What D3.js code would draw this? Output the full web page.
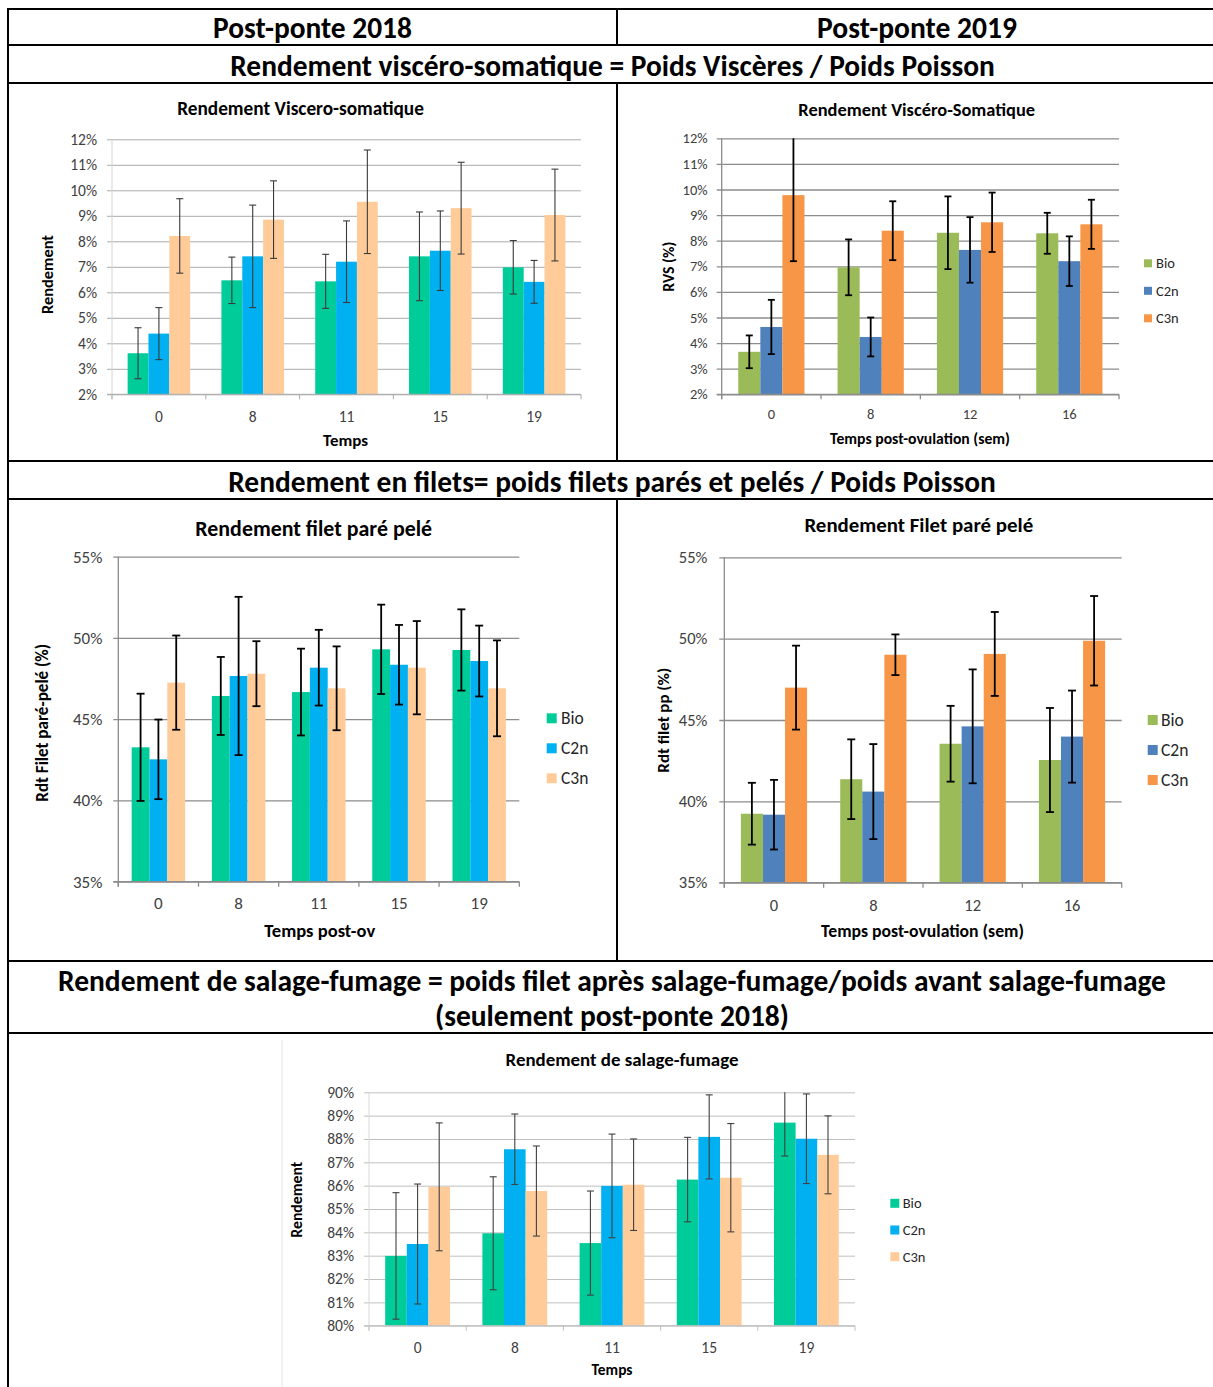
<!DOCTYPE html>
<html><head><meta charset="utf-8">
<script src="https://cdn.jsdelivr.net/npm/d3@7"></script>
<style>body{margin:0;background:#fff}svg{display:block}</style>
</head><body><svg id="c" width="1213" height="1387"></svg>
<script>
// ---------------- DATA ----------------
const series = ["Bio", "C2n", "C3n"];

// Rendement viscéro-somatique, post-ponte 2018 (%)
const rvs18Times = ["0", "8", "11", "15", "19"];
const rvs18Bio = [3.61, 6.47, 6.43, 7.41, 6.98];
const rvs18BioErr = [1.0, 0.91, 1.06, 1.74, 1.05];
const rvs18C2n = [4.38, 7.41, 7.2, 7.63, 6.41];
const rvs18C2nErr = [1.02, 2.01, 1.6, 1.56, 0.84];
const rvs18C3n = [8.21, 8.85, 9.55, 9.3, 9.03];
const rvs18C3nErr = [1.46, 1.52, 2.03, 1.8, 1.8];

// Rendement viscéro-somatique, post-ponte 2019 (%)
const rvs19Times = ["0", "8", "12", "16"];
const rvs19Bio = [3.66, 6.96, 8.31, 8.29];
const rvs19BioErr = [0.64, 1.09, 1.42, 0.8];
const rvs19C2n = [4.63, 4.24, 7.64, 7.2];
const rvs19C2nErr = [1.06, 0.76, 1.28, 0.97];
const rvs19C3n = [9.78, 8.39, 8.72, 8.64];
const rvs19C3nErr = [2.58, 1.15, 1.16, 0.96];

// Rendement filet paré pelé, post-ponte 2018 (%)
const fil18Times = ["0", "8", "11", "15", "19"];
const fil18Bio = [43.27, 46.43, 46.67, 49.3, 49.26];
const fil18BioErr = [3.3, 2.4, 2.67, 2.75, 2.5];
const fil18C2n = [42.53, 47.66, 48.17, 48.35, 48.58];
const fil18C2nErr = [2.45, 4.87, 2.33, 2.45, 2.18];
const fil18C3n = [47.25, 47.8, 46.9, 48.17, 46.9];
const fil18C3nErr = [2.9, 2.0, 2.58, 2.87, 2.95];

// Rendement filet paré pelé, post-ponte 2019 (%)
const fil19Times = ["0", "8", "12", "16"];
const fil19Bio = [39.24, 41.36, 43.54, 42.54];
const fil19BioErr = [1.9, 2.45, 2.33, 3.2];
const fil19C2n = [39.18, 40.6, 44.61, 43.98];
const fil19C2nErr = [2.14, 2.92, 3.5, 2.83];
const fil19C3n = [46.99, 49.01, 49.06, 49.87];
const fil19C3nErr = [2.58, 1.25, 2.58, 2.75];

// Rendement de salage-fumage, post-ponte 2018 (%)
const fum18Times = ["0", "8", "11", "15", "19"];
const fum18Bio = [82.99, 83.96, 83.54, 86.26, 88.7];
const fum18BioErr = [2.71, 2.42, 2.23, 1.81, 1.43];
const fum18C2n = [83.5, 87.56, 85.99, 88.09, 88.01];
const fum18C2nErr = [2.57, 1.51, 2.22, 1.8, 1.92];
const fum18C3n = [85.95, 85.77, 86.04, 86.34, 87.32];
const fum18C3nErr = [2.74, 1.93, 1.96, 2.32, 1.67];

// Tick values
const rvsTicks = [2, 3, 4, 5, 6, 7, 8, 9, 10, 11, 12];
const filetTicks = [35, 40, 45, 50, 55];
const fumageTicks = [80, 81, 82, 83, 84, 85, 86, 87, 88, 89, 90];

// ---------------- STYLE / LAYOUT ----------------
const FONT = "Carlito, Lato, 'Noto Sans', sans-serif";
const palette2018 = ["#00CC99", "#00B0F0", "#FFCC99"];
const palette2019 = ["#9BBB59", "#4F81BD", "#F79646"];
const svg = d3.select("#c");

function label(str, cx, cy, o = {}) {
  const fs = o.fs || 14;
  const t = svg.append("text")
    .attr("transform", `translate(${cx},${cy})` + (o.rotate ? " rotate(-90)" : ""))
    .attr("text-anchor", o.anchor || "middle")
    .attr("dy", "0.35em")
    .attr("font-family", FONT)
    .attr("font-weight", o.bold ? 700 : 400)
    .attr("font-size", fs)
    .attr("fill", o.fill || "#000")
    .text(str);
  if (o.width) {
    const L = t.node().getComputedTextLength();
    if (L > 0) t.attr("font-size", fs * o.width / L);
  }
  return t;
}

// ---------------- TABLE ----------------
const hRules = [9, 45, 83, 461, 499, 961, 1033];
hRules.forEach(y => svg.append("line").attr("x1", 7).attr("x2", 1213).attr("y1", y).attr("y2", y)
  .attr("stroke", "#000").attr("stroke-width", 2));
svg.append("line").attr("x1", 8).attr("x2", 8).attr("y1", 8).attr("y2", 1387).attr("stroke", "#000").attr("stroke-width", 2);
[[9, 45], [83, 461], [499, 961]].forEach(([a, b]) =>
  svg.append("line").attr("x1", 617).attr("x2", 617).attr("y1", a).attr("y2", b).attr("stroke", "#000").attr("stroke-width", 2));

label("Post-ponte 2018", 312.5, 28, {bold: true, fs: 24, width: 199});
label("Post-ponte 2019", 917, 28, {bold: true, fs: 24, width: 200});
label("Rendement viscéro-somatique = Poids Viscères / Poids Poisson", 612.5, 65.5, {bold: true, fs: 24, width: 765});
label("Rendement en filets= poids filets parés et pelés / Poids Poisson", 612, 482, {bold: true, fs: 24, width: 768});
label("Rendement de salage-fumage = poids filet après salage-fumage/poids avant salage-fumage", 612, 981, {bold: true, fs: 24, width: 1108});
label("(seulement post-ponte 2018)", 612, 1016, {bold: true, fs: 24, width: 354});

// ---------------- CHART ----------------
function chart(o) {
  const g = svg.append("g");
  const W = o.right - o.left;
  const x0 = d3.scaleBand().domain(o.cats).range([o.left, o.right]).paddingInner(1 / 3).paddingOuter(1 / 6);
  const x1 = d3.scaleBand().domain(series).range([0, x0.bandwidth()]);
  const yMin = o.ticks[0], yMax = o.ticks[o.ticks.length - 1];
  const y = d3.scaleLinear().domain([yMin, yMax]).range([o.bottom, o.top]);
  const color = d3.scaleOrdinal().domain(series).range(o.colors);

  if (o.frameX) g.append("line").attr("x1", o.frameX).attr("x2", o.frameX).attr("y1", o.frameY0).attr("y2", o.frameY1)
    .attr("stroke", "#E6E6E6").attr("stroke-width", 1);

  // grid + y labels
  const gy = g.append("g").attr("transform", `translate(${o.left},0)`)
    .call(d3.axisLeft(y).tickValues(o.ticks).tickSize(-W).tickPadding(o.yPad).tickFormat(d => d + "%"));
  gy.select(".domain").remove();
  gy.selectAll(".tick line").attr("x1", -5).attr("stroke", o.gridColor).attr("stroke-width", o.gridW);
  gy.selectAll(".tick text").attr("fill", "#404040").attr("font-size", o.fs).attr("font-family", FONT);

  // bars
  const rows = [];
  o.cats.forEach((c, i) => series.forEach((s, j) => rows.push({c, s, v: o.vals[j][i], e: o.errs[j][i]})));
  g.append("g").selectAll("rect").data(rows).join("rect")
    .attr("x", d => x0(d.c) + x1(d.s))
    .attr("width", x1.bandwidth())
    .attr("y", d => y(d.v))
    .attr("height", d => y(yMin) - y(d.v))
    .attr("fill", d => color(d.s));

  // error bars
  const eg = g.append("g").attr("stroke", o.errColor).attr("stroke-width", o.errW).attr("fill", "none");
  rows.forEach(d => {
    const cx = x0(d.c) + x1(d.s) + x1.bandwidth() / 2;
    const hi = Math.min(d.v + d.e, yMax), lo = Math.max(d.v - d.e, yMin);
    eg.append("line").attr("x1", cx).attr("x2", cx).attr("y1", y(lo)).attr("y2", y(hi));
    eg.append("line").attr("x1", cx - o.cap / 2).attr("x2", cx + o.cap / 2).attr("y1", y(lo)).attr("y2", y(lo));
    if (d.v + d.e <= yMax) eg.append("line").attr("x1", cx - o.cap / 2).attr("x2", cx + o.cap / 2).attr("y1", y(hi)).attr("y2", y(hi));
  });

  // axes lines
  g.append("line").attr("x1", o.left).attr("x2", o.left).attr("y1", o.top).attr("y2", o.bottom + 5)
    .attr("stroke", o.leftColor).attr("stroke-width", o.axisW);
  g.append("line").attr("x1", o.left - 5).attr("x2", o.right).attr("y1", o.bottom).attr("y2", o.bottom)
    .attr("stroke", o.bottomColor).attr("stroke-width", o.axisW);
  d3.range(o.cats.length + 1).forEach(i => {
    const bx = o.left + i * x0.step();
    g.append("line").attr("x1", bx).attr("x2", bx).attr("y1", o.bottom).attr("y2", o.bottom + 5)
      .attr("stroke", o.bottomColor).attr("stroke-width", o.axisW);
  });

  const gx = g.append("g").attr("transform", `translate(0,${o.bottom})`)
    .call(d3.axisBottom(x0).tickSize(0).tickPadding(o.xPad));
  gx.select(".domain").remove();
  gx.selectAll(".tick text").attr("fill", "#404040").attr("font-size", o.fs).attr("font-family", FONT);

  // titles
  label(o.title[0], o.title[1], o.title[2], {bold: true, fs: 16, width: o.title[3]});
  label(o.xTitle[0], o.xTitle[1], o.xTitle[2], {bold: true, fs: 14, width: o.xTitle[3]});
  label(o.yTitle[0], o.yTitle[1], o.yTitle[2], {bold: true, fs: 14, width: o.yTitle[3], rotate: true});

  // legend
  if (o.legend) {
    const L = o.legend;
    series.forEach((s, j) => {
      const cy = L.y0 + j * L.dy;
      g.append("rect").attr("x", L.x).attr("y", cy - L.sq / 2).attr("width", L.sq).attr("height", L.sq).attr("fill", color(s));
      label(s, L.tx, cy, {anchor: "start", fs: L.fs, fill: "#262626"});
    });
  }
}

chart({
  cats: rvs18Times, vals: [rvs18Bio, rvs18C2n, rvs18C3n], errs: [rvs18BioErr, rvs18C2nErr, rvs18C3nErr],
  ticks: rvsTicks, colors: palette2018,
  left: 112, right: 581, top: 139.3, bottom: 394.3,
  fs: 15.5, yPad: 15, xPad: 17,
  gridColor: "#ABABAB", gridW: 1, leftColor: "#D4D4D4", bottomColor: "#ABABAB", axisW: 1,
  errColor: "#3A3A3A", errW: 1.1, cap: 7,
  title: ["Rendement Viscero-somatique", 300.5, 108.3, 247],
  xTitle: ["Temps", 345.5, 440, 45],
  yTitle: ["Rendement", 47.5, 274.5, 79]
});

chart({
  cats: rvs19Times, vals: [rvs19Bio, rvs19C2n, rvs19C3n], errs: [rvs19BioErr, rvs19C2nErr, rvs19C3nErr],
  ticks: rvsTicks, colors: palette2019,
  left: 721.7, right: 1119, top: 138.3, bottom: 394.3,
  fs: 14.5, yPad: 14, xPad: 14.5,
  gridColor: "#8C8C8C", gridW: 1.3, leftColor: "#8C8C8C", bottomColor: "#8C8C8C", axisW: 1.3,
  errColor: "#000", errW: 1.8, cap: 7,
  title: ["Rendement Viscéro-Somatique", 916.7, 110, 237],
  xTitle: ["Temps post-ovulation (sem)", 920, 438, 180],
  yTitle: ["RVS (%)", 668.5, 266.7, 50],
  legend: {x: 1144, tx: 1156, y0: 263.3, dy: 27.5, sq: 8, fs: 14.5}
});

chart({
  cats: fil18Times, vals: [fil18Bio, fil18C2n, fil18C3n], errs: [fil18BioErr, fil18C2nErr, fil18C3nErr],
  ticks: filetTicks, colors: palette2018,
  left: 118.3, right: 519.3, top: 556.7, bottom: 881.7,
  fs: 17, yPad: 16, xPad: 15,
  gridColor: "#8C8C8C", gridW: 1.3, leftColor: "#8C8C8C", bottomColor: "#8C8C8C", axisW: 1.3,
  errColor: "#000", errW: 1.8, cap: 8,
  title: ["Rendement filet paré pelé", 313.7, 528.3, 237],
  xTitle: ["Temps post-ov", 319.7, 930, 111],
  yTitle: ["Rdt Filet paré-pelé (%)", 41.7, 722.8, 158],
  legend: {x: 546.7, tx: 561, y0: 718.3, dy: 30, sq: 10, fs: 17.5}
});

chart({
  cats: fil19Times, vals: [fil19Bio, fil19C2n, fil19C3n], errs: [fil19BioErr, fil19C2nErr, fil19C3nErr],
  ticks: filetTicks, colors: palette2019,
  left: 724.3, right: 1121.7, top: 557.3, bottom: 882.7,
  fs: 16.5, yPad: 17, xPad: 16.5,
  gridColor: "#8C8C8C", gridW: 1.3, leftColor: "#8C8C8C", bottomColor: "#8C8C8C", axisW: 1.3,
  errColor: "#000", errW: 1.8, cap: 8,
  title: ["Rendement Filet paré pelé", 918.8, 525, 229],
  xTitle: ["Temps post-ovulation (sem)", 922.5, 931, 203],
  yTitle: ["Rdt filet pp (%)", 663.3, 720.2, 105],
  legend: {x: 1147.7, tx: 1161, y0: 720, dy: 30, sq: 10, fs: 17.5}
});

chart({
  cats: fum18Times, vals: [fum18Bio, fum18C2n, fum18C3n], errs: [fum18BioErr, fum18C2nErr, fum18C3nErr],
  ticks: fumageTicks, colors: palette2018,
  left: 369, right: 855, top: 1092.3, bottom: 1325.7,
  fs: 15.5, yPad: 15, xPad: 16.5,
  gridColor: "#BFBFBF", gridW: 1, leftColor: "#D9D9D9", bottomColor: "#BFBFBF", axisW: 1,
  errColor: "#404040", errW: 1.1, cap: 7,
  frameX: 282, frameY0: 1040, frameY1: 1387,
  title: ["Rendement de salage-fumage", 622, 1059.3, 233],
  xTitle: ["Temps", 612, 1370, 41],
  yTitle: ["Rendement", 296.2, 1199.7, 76],
  legend: {x: 890.3, tx: 902.7, y0: 1203.3, dy: 26.7, sq: 9, fs: 14.5}
});
</script></body></html>
